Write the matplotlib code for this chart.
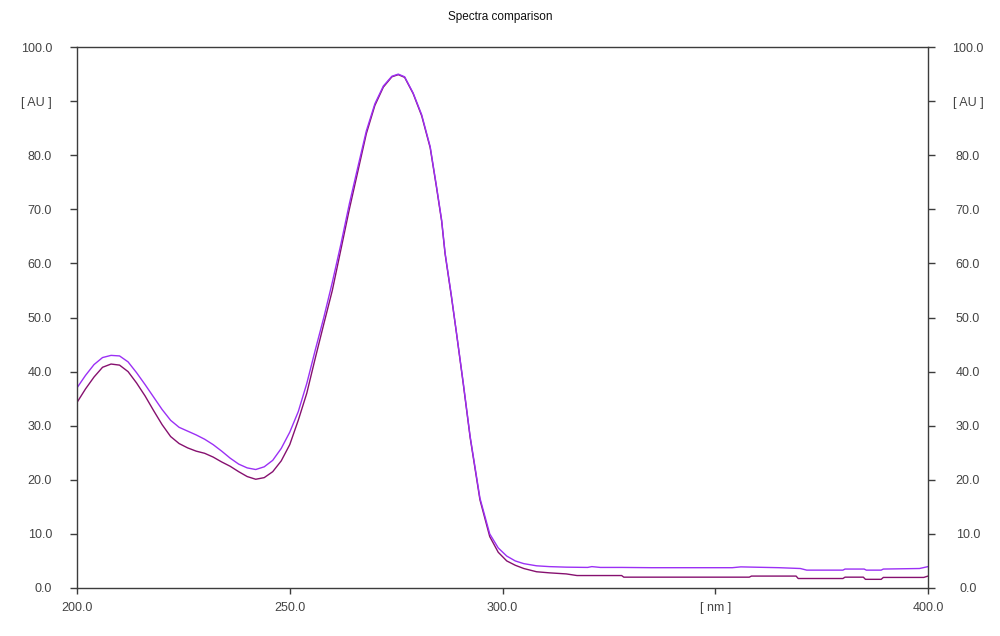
import matplotlib
matplotlib.use("Agg")
import matplotlib.pyplot as plt
import matplotlib.transforms as mtransforms

plt.rcParams['font.family'] = ['Liberation Sans', 'DejaVu Sans']

# spectrum 1 (violet, upper)
wl_a = [200, 202, 204, 206, 208, 210, 212, 214, 216, 218, 220, 222, 224, 226,
        228, 230, 232, 234, 236, 238, 240, 242, 244, 246, 248, 250, 252, 254,
        256, 258, 260, 262, 264, 266, 268, 270, 272, 274, 275.5, 277, 279, 281,
        283, 284.5, 285.7, 286.5, 288, 289.2, 290.8, 292.4, 294.7, 297, 299,
        301, 303, 305, 308, 311, 315, 320, 321, 323, 328, 335, 354, 356, 365,
        370, 371.5, 380, 380.5, 385, 385.5, 389, 389.5, 398, 400]
abs_a = [37.0, 39.3, 41.3, 42.6, 43.0, 42.9, 41.8, 39.8, 37.6, 35.3, 33.0,
         31.0, 29.7, 29.0, 28.3, 27.5, 26.5, 25.3, 24.0, 22.9, 22.2, 21.9,
         22.4, 23.6, 25.8, 28.8, 32.6, 37.8, 44.0, 50.0, 56.5, 63.5, 71.0,
         77.8, 84.5, 89.5, 92.8, 94.6, 95.0, 94.5, 91.5, 87.5, 81.6, 74.2,
         68.0, 62.0, 54.0, 47.1, 37.8, 28.0, 16.6, 10.0, 7.4, 5.9, 5.0, 4.5,
         4.1, 3.95, 3.85, 3.8, 3.95, 3.8, 3.8, 3.75, 3.75, 3.9, 3.75, 3.6,
         3.3, 3.3, 3.5, 3.5, 3.3, 3.3, 3.5, 3.6, 3.95]

# spectrum 2 (dark magenta, lower)
wl_b = [200, 202, 204, 206, 208, 210, 212, 214, 216, 218, 220, 222, 224, 226,
        228, 230, 232, 234, 236, 238, 240, 242, 244, 246, 248, 250, 252, 254,
        256, 258, 260, 262, 264, 266, 268, 270, 272, 274, 275.5, 277, 279, 281,
        283, 284.5, 285.7, 286.5, 288, 289.2, 290.8, 292.4, 294.7, 297, 299,
        301, 303, 305, 308, 311, 315, 317.5, 328, 328.5, 358, 358.5, 369,
        369.5, 380, 380.5, 384.8, 385.3, 389, 389.5, 399, 400]
abs_b = [34.3, 36.8, 39.0, 40.8, 41.4, 41.2, 40.0, 37.9, 35.5, 32.8, 30.2,
         28.0, 26.7, 25.9, 25.3, 24.9, 24.2, 23.3, 22.5, 21.5, 20.6, 20.1,
         20.4, 21.5, 23.5, 26.5, 31.0, 36.0, 42.5, 48.8, 55.0, 62.5, 70.0,
         77.0, 84.0, 89.2, 92.6, 94.5, 94.9, 94.4, 91.4, 87.3, 81.4, 74.0,
         67.8, 61.8, 53.8, 47.0, 37.6, 27.8, 16.3, 9.5, 6.6, 5.0, 4.2, 3.6,
         3.0, 2.8, 2.6, 2.3, 2.3, 2.0, 2.0, 2.2, 2.2, 1.75, 1.75, 2.0, 2.0,
         1.6, 1.6, 1.95, 1.95, 2.2]

x_ticks = [200, 250, 300, 350, 400]
x_labels = ['200.0', '250.0', '300.0', '[ nm ]', '400.0']
y_ticks = list(range(0, 101, 10))
y_labels = ['%.1f' % v for v in y_ticks]
y_labels[9] = '[ AU ]'

fig = plt.figure(figsize=(10, 6.36), dpi=100)
ax = fig.add_axes([0.077, 0.0755, 0.851, 0.8505])

ax.plot(wl_b, abs_b, color='#86106f', lw=1.0)
ax.plot(wl_a, abs_a, color='#9b30f5', lw=1.0)

ax.set_xlim(200, 400)
ax.set_ylim(0, 100)

spine_col = '#3c3c3c'
for s in ax.spines.values():
    s.set_color(spine_col)
    s.set_linewidth(1.0)

ax.set_xticks(x_ticks, labels=x_labels)
ax.set_yticks(y_ticks, labels=y_labels)
ax.tick_params(axis='x', direction='out', length=4, width=1, color=spine_col,
               labelsize=9, labelcolor='#444444', pad=6)
ax.tick_params(axis='y', direction='out', length=5, width=1, color=spine_col,
               labelsize=9, labelcolor='#444444', pad=13,
               right=True, labelright=True)

# right-hand labels are centred about x ~ 967 px in the reference
off = mtransforms.ScaledTranslation(0.15, 0, fig.dpi_scale_trans)
for t in ax.yaxis.get_major_ticks():
    t.label2.set_horizontalalignment('center')
    t.label2.set_transform(t.label2.get_transform() + off)

fig.text(0.5, 0.973, 'Spectra comparison', ha='center', va='center',
         fontsize=8.5, color='#111111')

fig.savefig('out.png', dpi=100, facecolor='white')
